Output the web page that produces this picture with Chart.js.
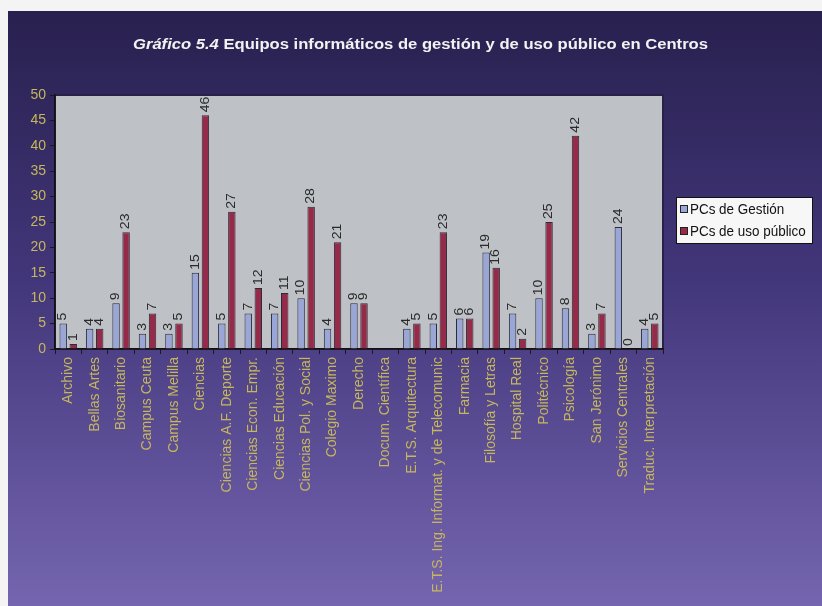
<!DOCTYPE html>
<html>
<head>
<meta charset="utf-8">
<script src="https://cdn.jsdelivr.net/npm/chart.js@4/dist/chart.umd.min.js"></script>
<style>
  html, body { margin: 0; padding: 0; background: #fff; }
  #wrap { width: 822px; height: 606px; }
</style>
</head>
<body>
<div id="wrap"><canvas id="chartCentros" width="822" height="606"></canvas></div>
<script>
const centros = [
  'Archivo', 'Bellas Artes', 'Biosanitario', 'Campus Ceuta', 'Campus Melilla', 'Ciencias',
  'Ciencias A.F. Deporte', 'Ciencias Econ. Empr.', 'Ciencias Educación', 'Ciencias Pol. y Social',
  'Colegio Maximo', 'Derecho', 'Docum. Científica', 'E.T.S. Arquitectura',
  'E.T.S. Ing. Informat. y de Telecomunic', 'Farmacia', 'Filosofía y Letras', 'Hospital Real',
  'Politécnico', 'Psicología', 'San Jerónimo', 'Servicios Centrales', 'Traduc. Interpretación'
]
const pcsGestion = [5, 4, 9, 3, 3, 15, 5, 7, 7, 10, 4, 9, null, 4, 5, 6, 19, 7, 10, 8, 3, 24, 4]
const pcsPublico = [1, 4, 23, 7, 5, 46, 27, 12, 11, 28, 21, 9, null, 5, 23, 6, 16, 2, 25, 42, 7, 0, 5]
const ejeY = [0, 5, 10, 15, 20, 25, 30, 35, 40, 45, 50]

const colorGestion = '#9aa6d6'
const colorPublico = '#952b48'
const amarillo = '#c6b75c'
const fuente = 'Arial, "Liberation Sans"'

const canvas = document.getElementById('chartCentros')
const context = canvas.getContext('2d')

// fondo morado, recuadro del area de trazado, titulo y leyenda
const fondo = {
  id: 'fondo',
  beforeDraw(chart) {
    const ctx = chart.ctx
    const { left, top, right, bottom } = chart.chartArea
    ctx.save()
    ctx.fillStyle = '#f4f4f4'
    ctx.fillRect(0, 0, chart.width, chart.height)
    const grad = ctx.createLinearGradient(0, 10, 0, chart.height)
    grad.addColorStop(0, '#28204e')
    grad.addColorStop(0.45, '#42367a')
    grad.addColorStop(1, '#7565b0')
    ctx.fillStyle = grad
    ctx.fillRect(8, 11, chart.width - 8, chart.height - 11)

    ctx.fillStyle = '#bec2c6'
    ctx.fillRect(left, top, right - left, bottom - top)
    ctx.strokeStyle = '#2a2048'
    ctx.lineWidth = 2
    ctx.strokeRect(left, top, right - left, bottom - top)

    // titulo (ancho ajustado al original)
    ctx.fillStyle = '#f2f2f2'
    ctx.textBaseline = 'middle'
    const parte1 = 'Gráfico 5.4 '
    const parte2 = 'Equipos informáticos de gestión y de uso público en Centros'
    ctx.font = 'italic bold 14px ' + fuente
    const w1 = ctx.measureText(parte1).width
    ctx.font = 'bold 14px ' + fuente
    const w2 = ctx.measureText(parte2).width
    const sx = 575 / (w1 + w2)
    ctx.save()
    ctx.translate(133, 45)
    ctx.scale(sx, 1)
    ctx.font = 'italic bold 14px ' + fuente
    ctx.fillText(parte1, 0, 0)
    ctx.font = 'bold 14px ' + fuente
    ctx.fillText(parte2, w1, 0)
    ctx.restore()

    // leyenda
    ctx.fillStyle = '#f7f7f7'
    ctx.fillRect(676, 197, 136, 46)
    ctx.strokeStyle = '#111'
    ctx.lineWidth = 1
    ctx.strokeRect(676.5, 197.5, 136, 46)
    const items = [[colorGestion, 'PCs de Gestión', 209], [colorPublico, 'PCs de uso público', 231]]
    ctx.font = '14px ' + fuente
    items.forEach(([c, t, y]) => {
      ctx.fillStyle = c
      ctx.fillRect(680, y - 4, 8, 8)
      ctx.strokeStyle = '#222'
      ctx.strokeRect(680.5, y - 3.5, 7, 7)
      ctx.fillStyle = '#111'
      ctx.save()
      ctx.translate(690, y + 1)
      ctx.scale(0.96, 1)
      ctx.fillText(t, 0, 0)
      ctx.restore()
    })
    ctx.restore()
  },
  afterDatasetsDraw(chart) {
    const ctx = chart.ctx
    ctx.save()
    ctx.font = '14px ' + fuente
    ctx.fillStyle = '#2a2a2a'
    ctx.textAlign = 'left'
    ctx.textBaseline = 'middle'
    chart.data.datasets.forEach((ds, i) => {
      const meta = chart.getDatasetMeta(i)
      meta.data.forEach((bar, j) => {
        const v = ds.data[j]
        if (v === null) return
        ctx.save()
        ctx.translate(bar.x, bar.y - 3)
        ctx.rotate(-Math.PI / 2)
        ctx.scale(1, 0.85)
        ctx.fillText(String(v), 0, 0)
        ctx.restore()
      })
    })
    ctx.restore()
  }
}

const chartCentros = new Chart(context, {
  type: 'bar',
  data: {
    labels: centros,
    datasets: [
      {
        label: 'PCs de Gestión',
        data: pcsGestion,
        backgroundColor: colorGestion,
        borderColor: '#2b2b3a',
        borderWidth: 1,
        borderSkipped: 'bottom'
      },
      {
        label: 'PCs de uso público',
        data: pcsPublico,
        backgroundColor: colorPublico,
        borderColor: '#2b2b3a',
        borderWidth: 1,
        borderSkipped: 'bottom'
      }
    ]
  },
  options: {
    responsive: false,
    animation: false,
    layout: { padding: { left: 8, top: 95, right: 159, bottom: 0 } },
    datasets: { bar: { categoryPercentage: 0.76, barPercentage: 0.74 } },
    plugins: {
      legend: { display: false },
      tooltip: { enabled: false }
    },
    scales: {
      x: {
        grid: { drawOnChartArea: false, tickLength: 5, color: '#1a1a1a' },
        border: { color: '#111', width: 1.5 },
        ticks: {
          color: amarillo,
          font: { family: fuente, size: 14 },
          minRotation: 90,
          maxRotation: 90,
          autoSkip: false,
          padding: 3
        },
        afterFit(scale) { scale.height = 606 - 349 }
      },
      y: {
        min: 0,
        max: 50,
        afterBuildTicks(scale) { scale.ticks = ejeY.map(v => ({ value: v })) },
        grid: { drawOnChartArea: false, tickLength: 5, color: '#1a1a1a' },
        border: { color: '#111', width: 1.5 },
        ticks: {
          color: amarillo,
          font: { family: fuente, size: 14 },
          padding: 4
        },
        afterFit(scale) { scale.width = 55 - 8 }
      }
    }
  },
  plugins: [fondo]
})
</script>
</body>
</html>
